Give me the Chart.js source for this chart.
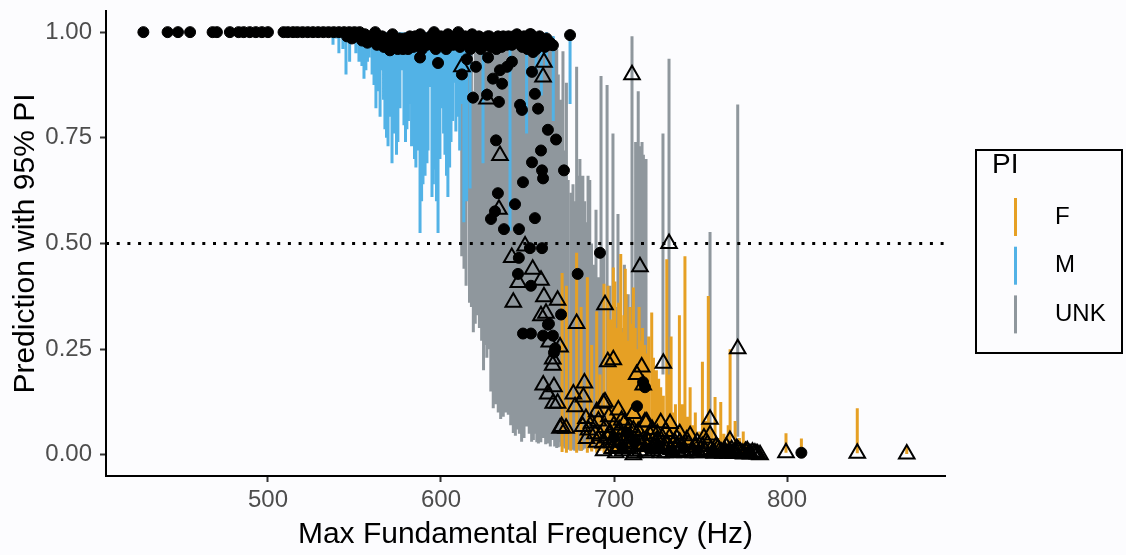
<!DOCTYPE html>
<html>
<head>
<meta charset="utf-8">
<script src="https://cdn.jsdelivr.net/npm/chart.js@4"></script>
<style>
  html, body { margin: 0; padding: 0; background: #fcfcfe; }
  #wrap { width: 1126px; height: 555px; }
</style>
</head>
<body>
<div id="wrap"><canvas id="chart" width="1126" height="555"></canvas></div>
<script>
// axis ranges and ticks
const xRange = [406.4, 891.3];
const yRange = [-0.05, 1.05];
const xTicks = [500, 600, 700, 800];
const yTicks = [0, 0.25, 0.5, 0.75, 1];
const cutoff = 0.5;

const groups = ['F', 'M', 'UNK'];
const groupColours = ['#e6a024', '#52b2e6', '#8f979d'];

// prediction intervals: [frequency, lower, upper]
const mBars = [
  [537.6, 0.97, 0.995], [539.5, 0.985, 1], [541, 0.95, 1], [543.3, 0.96, 1], [545.1, 0.9, 0.995],
  [547.2, 0.93, 1], [549.1, 0.98, 1], [550.8, 0.95, 1], [552.6, 0.93, 0.995], [554.3, 0.92, 1],
  [555.5, 0.89, 1], [556.6, 0.91, 0.99], [557.5, 0.93, 1], [558.4, 0.94, 1], [560.2, 0.9, 1],
  [561.3, 0.875, 0.995], [562.4, 0.82, 0.99], [563.5, 0.86, 1], [564.8, 0.8, 1], [565.9, 0.91, 1],
  [566.8, 0.84, 1], [567.6, 0.77, 0.99], [568.5, 0.75, 1], [569.4, 0.73, 0.995], [570.5, 0.8, 1],
  [571.7, 0.69, 1], [572.6, 0.76, 1], [573.4, 0.866, 0.99], [574.3, 0.71, 1], [575.1, 0.74, 0.995],
  [576.3, 0.82, 1], [577.5, 0.91, 1], [578.6, 0.78, 0.99], [579.5, 0.74, 1], [580.3, 0.77, 0.995],
  [581.2, 0.79, 1], [582.1, 0.83, 1], [583, 0.73, 1], [583.8, 0.78, 0.99], [584.7, 0.7, 1],
  [585.5, 0.68, 0.995], [586.9, 0.72, 1], [587.9, 0.525, 0.99], [588.8, 0.6, 1], [589.6, 0.64, 0.995],
  [590.8, 0.66, 1], [591.9, 0.69, 1], [592.5, 0.72, 1], [593.1, 0.87, 0.99], [594.8, 0.61, 0.995],
  [595.6, 0.64, 1], [596.5, 0.675, 1], [597.4, 0.6, 1], [598.3, 0.525, 0.99], [599.4, 0.7, 1],
  [600.6, 0.82, 0.995], [601.5, 0.76, 1], [602.3, 0.71, 1], [603.2, 0.66, 1], [604, 0.61, 0.99],
  [605, 0.68, 1], [605.8, 0.74, 0.995], [606.7, 0.79, 1], [607.5, 0.88, 1], [608.6, 0.765, 0.99],
  [609.8, 0.8, 0.995], [610.8, 0.72, 1], [611.8, 0.83, 1], [613.2, 0.55, 0.99], [614.8, 0.6, 0.99],
  [616.8, 0.63, 0.995], [624.3, 0.69, 0.99], [639.9, 0.53, 0.99], [649.5, 0.76, 0.995], [655, 0.9, 1],
  [658, 0.85, 0.995], [661, 0.92, 1], [664.9, 0.79, 0.99], [674.6, 0.83, 0.99]
];

const uBars = [
  [612, 0.47, 0.89], [613.3, 0.44, 0.97], [614.5, 0.4, 0.93], [616.5, 0.36, 0.95], [617.6, 0.35, 0.98],
  [618.7, 0.29, 0.86], [619.8, 0.31, 0.97], [621, 0.33, 0.95], [622.2, 0.3, 0.99], [623.5, 0.27, 0.97],
  [624.6, 0.2, 0.95], [625.5, 0.26, 0.96], [626.5, 0.23, 0.99], [627.4, 0.25, 0.98], [628.8, 0.15, 0.98],
  [630.2, 0.11, 0.97], [631.6, 0.12, 0.99], [633.1, 0.1, 0.99], [634.5, 0.085, 0.97], [636, 0.09, 0.98],
  [637.4, 0.1, 0.99], [638.9, 0.095, 0.96], [640.3, 0.07, 0.98], [641.8, 0.052, 0.99], [643, 0.045, 0.99],
  [644, 0.06, 0.97], [645.3, 0.05, 0.98], [646.6, 0.031, 0.99], [648, 0.04, 0.97], [649.5, 0.067, 0.98],
  [651, 0.05, 0.99], [652.4, 0.031, 0.99], [653.4, 0.035, 0.98], [654.5, 0.05, 0.97], [655.4, 0.03, 0.99],
  [656.3, 0.027, 0.99], [657.7, 0.03, 0.97], [659, 0.04, 0.98], [660.5, 0.025, 0.99], [662, 0.027, 0.97],
  [663.2, 0.02, 0.98], [664.5, 0.035, 0.99], [665.7, 0.02, 0.97], [666.9, 0.016, 0.96], [667.8, 0.018, 0.9],
  [668.8, 0.03, 0.84], [669.6, 0.02, 0.8], [670.5, 0.02, 0.955], [671.6, 0.015, 0.72], [672.5, 0.015, 0.88],
  [673.5, 0.012, 0.65], [675.3, 0.015, 0.62], [676.3, 0.012, 0.64], [677.3, 0.01, 0.6], [678.4, 0.01, 0.918],
  [679.3, 0.012, 0.66], [680.3, 0.01, 0.7], [681.2, 0.01, 0.62], [682, 0.012, 0.66], [683, 0.015, 0.6],
  [684, 0.03, 0.55], [685, 0.02, 0.66], [686, 0.015, 0.65], [687, 0.012, 0.5], [688.5, 0.02, 0.45],
  [689.6, 0.013, 0.58], [691, 0.03, 0.42], [692.5, 0.02, 0.896], [694, 0.05, 0.48], [696, 0.013, 0.875],
  [697.5, 0.04, 0.4], [699.4, 0.05, 0.76], [700.8, 0.08, 0.35], [702.3, 0.06, 0.57], [704.3, 0.09, 0.3],
  [706, 0.1, 0.45], [708.2, 0.12, 0.38], [710.4, 0.22, 0.99], [712.5, 0.12, 0.74], [713.2, 0.14, 0.72],
  [714, 0.1, 0.86], [715.5, 0.15, 0.73], [716.2, 0.13, 0.74], [717, 0.2, 0.71], [718.5, 0.17, 0.7],
  [728.3, 0.19, 0.76], [731.8, 0.08, 0.937], [755.5, 0.028, 0.527], [771.5, 0.043, 0.829]
];

const fBars = [
  [670, 0.007, 0.43], [672.5, 0.005, 0.4], [675, 0.01, 0.3], [678.4, 0.005, 0.478], [681, 0.01, 0.35],
  [684.6, 0.005, 0.42], [687.1, 0.008, 0.26], [690, 0.005, 0.34], [691.9, 0.01, 0.19], [694.2, 0.005, 0.405],
  [696.5, 0.008, 0.4], [698, 0.006, 0.32], [699.6, 0.005, 0.443], [700.5, 0.008, 0.41], [701.5, 0.01, 0.3],
  [702.7, 0.006, 0.36], [703.9, 0.006, 0.475], [704.8, 0.006, 0.29], [705.8, 0.01, 0.33], [706.5, 0.005, 0.44],
  [707, 0.008, 0.38], [708.5, 0.008, 0.27], [709.2, 0.008, 0.35], [710, 0.006, 0.31], [711.2, 0.005, 0.396],
  [712.3, 0.006, 0.3], [713.5, 0.01, 0.25], [714.5, 0.006, 0.35], [715.5, 0.008, 0.27], [716.5, 0.006, 0.3],
  [717.8, 0.008, 0.26], [718.6, 0.006, 0.24], [719, 0.01, 0.22], [720, 0.006, 0.28], [721.8, 0.005, 0.337],
  [722.8, 0.006, 0.23], [724.5, 0.01, 0.2], [725.8, 0.008, 0.18], [727, 0.008, 0.16], [728.5, 0.006, 0.14],
  [730.5, 0.005, 0.463], [732, 0.006, 0.19], [733, 0.01, 0.28], [734.2, 0.008, 0.1], [735.5, 0.008, 0.12],
  [737.8, 0.005, 0.33], [739.5, 0.006, 0.12], [741, 0.005, 0.47], [742.5, 0.006, 0.09], [744, 0.01, 0.16],
  [745.5, 0.008, 0.07], [747, 0.008, 0.1], [749.5, 0.01, 0.055], [751.1, 0.005, 0.22], [752.8, 0.006, 0.08],
  [754.5, 0.005, 0.376], [756.5, 0.006, 0.06], [758.4, 0.01, 0.137], [760, 0.008, 0.04], [761.7, 0.005, 0.125],
  [763.5, 0.01, 0.05], [766, 0.006, 0.07], [767.1, 0.005, 0.25], [770, 0.01, 0.08], [772.5, 0.008, 0.04],
  [774.7, 0.005, 0.055], [776.5, 0.01, 0.03], [799.4, 0.005, 0.051], [808.3, 0.002, 0.039], [840.6, 0.004, 0.11],
  [869.2, 0.002, 0.02]
];

// known-sex predictions (filled circles): [frequency, prediction]
const circles = [
  [428, 1], [442, 1], [448, 1], [455, 1], [468, 1], [470.5, 1], [478, 1], [483, 1], [486, 1], [489.5, 1],
  [493, 1], [496.5, 1], [500, 1], [509, 1], [511.5, 1], [514.5, 1], [517, 1], [520, 1], [523, 1], [526, 1],
  [529, 1], [532, 1], [535, 1], [538, 1], [541, 1], [544, 1], [545.7, 0.99], [547, 1], [550, 1],
  [553, 1], [556, 0.995], [559, 0.99], [562, 1], [564, 0.985], [566, 0.99], [568, 0.975], [570, 0.98],
  [570.5, 0.957], [572, 0.995], [574, 0.97], [576, 0.985], [577, 0.965], [578, 0.96], [580, 0.975], [582, 0.99],
  [584, 0.965], [586, 0.98], [588, 0.995], [590, 0.985], [592, 0.97], [594, 0.99], [596, 1], [598, 0.985],
  [600, 0.99], [602, 0.975], [604, 0.995], [606, 0.98], [608, 0.99], [610, 1], [612, 0.985], [614, 0.99],
  [616, 0.97], [618, 0.995], [620, 0.98], [622, 0.99], [624, 0.985], [626, 0.97], [628, 0.99], [630, 0.975],
  [632, 0.96], [634, 0.98], [636, 0.99], [638, 0.97], [640, 0.985], [642, 0.99], [644, 0.975], [646, 0.98],
  [648, 0.99], [650, 0.96], [652, 0.995], [654, 0.97], [656, 0.985], [658, 0.975], [660, 0.965], [662, 0.97],
  [548.5, 0.985], [551.5, 0.99], [554.5, 0.98], [557.5, 0.975], [560.5, 0.985], [563, 0.97], [565, 0.98],
  [567, 0.965], [569, 0.985], [571, 0.97], [573, 0.98], [575, 0.96], [579, 0.985], [581, 0.96], [583, 0.975],
  [585, 0.99], [587, 0.97], [589, 0.96], [591, 0.98], [593, 0.985], [595, 0.97], [597, 0.96], [599, 0.975],
  [601, 0.985], [603, 0.96], [605, 0.975], [607, 0.97], [609, 0.98], [611, 0.965], [613, 0.975], [615, 0.985],
  [617, 0.96], [619, 0.975], [621, 0.97], [623, 0.96], [625, 0.98], [627, 0.99], [629, 0.965], [631, 0.98],
  [633, 0.99], [635, 0.965], [637, 0.975], [639, 0.99], [641, 0.97], [643, 0.98], [645, 0.99], [647, 0.965],
  [649, 0.98], [651, 0.975], [653, 0.985], [655, 0.96], [657, 0.99], [659, 0.98], [661, 0.985], [663, 0.975],
  [587.9, 0.94], [598.3, 0.927], [615, 0.936], [612.1, 0.9], [620.2, 0.918], [618.5, 0.845], [626.6, 0.852],
  [633.5, 0.835], [630, 0.89], [635.3, 0.878], [634.1, 0.91], [638.2, 0.918], [641, 0.93], [627.2, 0.94],
  [643.9, 0.995], [651.4, 0.995], [649.1, 0.972], [653.2, 0.953], [657.2, 0.972], [664.7, 0.969], [674.6, 0.993],
  [652.6, 0.906], [654.3, 0.854], [656.1, 0.819], [645.7, 0.828], [646.8, 0.816], [661.8, 0.769], [666.5, 0.746],
  [631.8, 0.744], [657.8, 0.72], [652.6, 0.692], [658.4, 0.673], [659, 0.654], [671.1, 0.673], [647.4, 0.645],
  [632.9, 0.619], [642.8, 0.593], [631.2, 0.576], [628.9, 0.558], [636.4, 0.534], [645.1, 0.534], [654.3, 0.56],
  [651.4, 0.489], [658.4, 0.489], [691.9, 0.478], [645, 0.466], [644.5, 0.428], [652, 0.4], [679, 0.428],
  [669.4, 0.332], [647.4, 0.287], [652, 0.287], [659, 0.282], [661.8, 0.308], [664.7, 0.282], [666, 0.252],
  [665.3, 0.242], [662.4, 0.31], [717.9, 0.16], [716.8, 0.172], [713.3, 0.115], [808.3, 0.005],
  [700, 0.04], [705, 0.02], [708, 0.05], [712, 0.03], [720, 0.015], [726, 0.02], [733, 0.01], [740, 0.015],
  [748, 0.01], [757, 0.008], [765, 0.01], [778, 0.005]
];

// unknown-sex predictions (open triangles): [frequency, prediction]
const triangles = [
  [612.1, 0.918], [626.6, 0.842], [659.5, 0.929], [659, 0.894], [710.4, 0.899], [634.1, 0.708], [633.5, 0.581],
  [648.6, 0.494], [731.8, 0.5], [640.9, 0.467], [641.8, 0.361], [644.7, 0.408], [653, 0.439], [657.8, 0.413],
  [659.5, 0.374], [667.4, 0.366], [657.8, 0.329], [660.7, 0.335], [662.6, 0.267], [668.8, 0.255], [664.6, 0.227],
  [664.6, 0.212], [678.4, 0.311], [659.1, 0.165], [665.3, 0.161], [661.7, 0.144], [667.4, 0.122], [682.9, 0.17],
  [676.5, 0.144], [668.8, 0.063], [672.3, 0.063], [677.5, 0.114], [682.3, 0.137], [683.8, 0.086], [681.9, 0.067],
  [685.2, 0.059], [690, 0.102], [693.8, 0.122], [693.5, 0.028], [684.2, 0.039], [694.8, 0.355], [696.4, 0.22],
  [715, 0.445], [699.6, 0.225], [728.5, 0.217], [716, 0.208], [713.1, 0.19], [716.9, 0.165], [771.5, 0.251],
  [755.5, 0.084], [755.5, 0.047], [767, 0.034], [694.8, 0.125], [702.5, 0.106], [704.4, 0.082], [718.9, 0.078],
  [727, 0.076], [732.4, 0.074], [711.2, 0.059], [736.2, 0.039], [711.2, 0], [784.4, 0], [799.4, 0.005],
  [664.9, 0.122], [669.7, 0.067], [711.1, 0.098], [717.9, 0.078], [840.6, 0.004], [869.2, 0.002],
  [698, 0.05], [700, 0.035], [702, 0.02], [704, 0.045], [706, 0.03], [708, 0.015], [709.5, 0.04], [713, 0.025],
  [715, 0.01], [717, 0.035], [719, 0.02], [721, 0.045], [722.5, 0.01], [724, 0.03], [726, 0.015], [728, 0.04],
  [729.5, 0.005], [731, 0.025], [733, 0.012], [735, 0.03], [737, 0.008], [739, 0.02], [741, 0.005], [743, 0.025],
  [745, 0.01], [747, 0.018], [749, 0.005], [751, 0.02], [753, 0.008], [756, 0.012], [758, 0.004], [760, 0.015],
  [762, 0.006], [764, 0.01], [766, 0.004], [768, 0.012], [770, 0.005], [772, 0.01], [774, 0.004], [776, 0.008],
  [778, 0.004], [780, 0.006], [782, 0.003],
  [687, 0.075], [689, 0.05], [691, 0.08], [695, 0.065], [697, 0.09], [700, 0.07], [703, 0.06], [706, 0.075],
  [709, 0.065], [714, 0.055], [722, 0.06], [725, 0.05], [730, 0.055], [738, 0.05], [744, 0.045], [752, 0.04],
  [699, 0.015], [701, 0.005], [703, 0.03], [705, 0.01], [707, 0.045], [710, 0.02], [712, 0.005], [714, 0.04],
  [716, 0.02], [718, 0.005], [720, 0.03], [723, 0.02], [725, 0.035], [727, 0.005], [729, 0.02], [732, 0.04],
  [734, 0.005], [736, 0.02], [738, 0.03], [740, 0.01], [742, 0.035], [746, 0.005], [748, 0.03], [750, 0.012],
  [754, 0.025], [757, 0.005], [759, 0.02], [761, 0.01], [763, 0.004], [765, 0.018], [767, 0.008], [769, 0.003],
  [771, 0.015], [773, 0.006], [775, 0.002], [777, 0.01], [779, 0.002], [781, 0.004], [783, 0.002],
  [690, 0.03], [692, 0.045], [694, 0.01], [696, 0.04]
];

Chart.defaults.font.family = "'Liberation Sans', Arial, sans-serif";

// each interval becomes a vertical segment, separated by a gap
function segments(bars) {
  const out = [];
  bars.forEach(b => {
    out.push({ x: b[0], y: b[1] }, { x: b[0], y: b[2] }, { x: b[0], y: null });
  });
  return out;
}

function barSet(label, bars, colour, order) {
  return {
    label: label,
    data: segments(bars),
    showLine: true,
    spanGaps: false,
    borderColor: colour,
    borderWidth: 3,
    pointRadius: 0,
    order: order
  };
}

// legend drawn as a boxed key on the right
const legendBox = {
  id: 'legendBox',
  afterDraw(chart) {
    const c = chart.ctx;
    c.save();
    c.strokeStyle = '#000';
    c.lineWidth = 2;
    c.strokeRect(976, 150, 146, 203);
    c.fillStyle = '#000';
    c.textAlign = 'left';
    c.textBaseline = 'middle';
    c.font = "28px 'Liberation Sans', Arial, sans-serif";
    c.fillText('PI', 992, 165);
    c.font = "24px 'Liberation Sans', Arial, sans-serif";
    groups.forEach((g, i) => {
      const y = 217 + i * 48.7;
      c.strokeStyle = groupColours[i];
      c.lineWidth = 3;
      c.beginPath();
      c.moveTo(1015.5, y - 19);
      c.lineTo(1015.5, y + 19);
      c.stroke();
      c.fillText(g, 1055, y);
    });
    c.restore();
  }
};

const ctx = document.getElementById('chart');

new Chart(ctx, {
  type: 'scatter',
  data: {
    datasets: [
      {
        label: 'unknown',
        data: triangles.map(p => ({ x: p[0], y: p[1] })),
        pointStyle: 'triangle',
        pointRadius: 9,
        backgroundColor: 'rgba(0,0,0,0)',
        borderColor: '#000',
        borderWidth: 2,
        order: 0
      },
      {
        label: 'known',
        data: circles.map(p => ({ x: p[0], y: p[1] })),
        pointRadius: 5.5,
        backgroundColor: '#000',
        borderColor: '#000',
        borderWidth: 1,
        order: 1
      },
      {
        label: 'cutoff',
        data: [{ x: xRange[0], y: cutoff }, { x: xRange[1], y: cutoff }],
        showLine: true,
        borderColor: '#000',
        borderWidth: 3,
        borderDash: [3, 7.7],
        pointRadius: 0,
        order: 2
      },
      barSet('F', fBars, groupColours[0], 3),
      barSet('M', mBars, groupColours[1], 4),
      barSet('UNK', uBars, groupColours[2], 5)
    ]
  },
  options: {
    responsive: false,
    animation: false,
    layout: { padding: { top: 9, right: 181, bottom: 0, left: 0 } },
    plugins: {
      legend: { display: false },
      tooltip: { enabled: false }
    },
    scales: {
      x: {
        type: 'linear',
        min: xRange[0],
        max: xRange[1],
        afterBuildTicks: s => { s.ticks = xTicks.map(v => ({ value: v })); },
        afterFit: s => { s.height = 79; s.paddingLeft = 0; s.paddingRight = 0; },
        grid: { drawOnChartArea: false, drawTicks: true, tickLength: 6, tickColor: '#333', tickWidth: 2 },
        border: { display: true, color: '#000', width: 2 },
        ticks: { color: '#4d4d4d', font: { size: 24 }, padding: 4, maxRotation: 0, callback: v => String(v) },
        title: {
          display: true,
          text: 'Max Fundamental Frequency (Hz)',
          color: '#000',
          font: { size: 30 },
          padding: { top: 0, bottom: 2 }
        }
      },
      y: {
        type: 'linear',
        min: yRange[0],
        max: yRange[1],
        afterBuildTicks: s => { s.ticks = yTicks.map(v => ({ value: v })); },
        afterFit: s => { s.width = 106; s.paddingTop = 0; s.paddingBottom = 0; },
        grid: { drawOnChartArea: false, drawTicks: true, tickLength: 6, tickColor: '#333', tickWidth: 2 },
        border: { display: true, color: '#000', width: 2 },
        ticks: { color: '#4d4d4d', font: { size: 24 }, padding: 8, callback: v => v.toFixed(2) },
        title: {
          display: true,
          text: 'Prediction with 95% PI',
          color: '#000',
          font: { size: 30 },
          padding: { top: 8, bottom: 0 }
        }
      }
    }
  },
  plugins: [legendBox]
});
</script>
</body>
</html>
